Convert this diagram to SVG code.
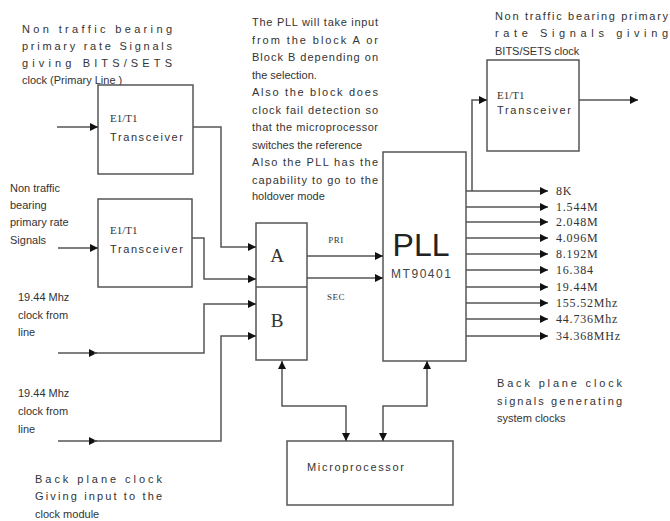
<svg xmlns="http://www.w3.org/2000/svg" width="670" height="521" viewBox="0 0 670 521">
<defs>
<style>
.bx{fill:#fff;stroke:#555;stroke-width:1.5}
.ln{fill:none;stroke:#555;stroke-width:1.5}
.t{font-family:"Liberation Sans",Arial,sans-serif;font-size:11px;fill:#333}
.s{font-family:"Liberation Serif","Times New Roman",serif;fill:#333}
.o{font-family:"Liberation Serif","Times New Roman",serif;font-size:12px;letter-spacing:0.8px;fill:#333}
</style>
<marker id="ah" viewBox="0 0 10 10" refX="10" refY="5" markerWidth="10" markerHeight="8" markerUnits="userSpaceOnUse" orient="auto-start-reverse">
<path d="M0,0 L10,5 L0,10 z" fill="#111"/>
</marker>
</defs>
<rect width="670" height="521" fill="#fff"/>

<g id="notes">
<text class="t" x="22" y="33" textLength="150" lengthAdjust="spacing">Non traffic bearing</text>
<text class="t" x="22" y="50" textLength="150" lengthAdjust="spacing">primary rate Signals</text>
<text class="t" x="22" y="67" textLength="150" lengthAdjust="spacing">giving BITS/SETS</text>
<text class="t" x="22" y="84">clock (Primary Line )</text>

<text class="t" x="252" y="26" textLength="126" lengthAdjust="spacing">The PLL will take input</text>
<text class="t" x="252" y="44" textLength="126" lengthAdjust="spacing">from the block A or</text>
<text class="t" x="252" y="61" textLength="126" lengthAdjust="spacing">Block B depending on</text>
<text class="t" x="252" y="79">the selection.</text>
<text class="t" x="252" y="96" textLength="126" lengthAdjust="spacing">Also the block does</text>
<text class="t" x="252" y="114" textLength="126" lengthAdjust="spacing">clock fail detection so</text>
<text class="t" x="252" y="131" textLength="126" lengthAdjust="spacing">that the microprocessor</text>
<text class="t" x="252" y="149">switches the reference</text>
<text class="t" x="252" y="166" textLength="126" lengthAdjust="spacing">Also the PLL has the</text>
<text class="t" x="252" y="184" textLength="126" lengthAdjust="spacing">capability to go to the</text>
<text class="t" x="252" y="200">holdover mode</text>

<text class="t" x="495" y="20" textLength="173" lengthAdjust="spacing">Non traffic bearing primary</text>
<text class="t" x="495" y="37" textLength="173" lengthAdjust="spacing">rate Signals giving</text>
<text class="t" x="495" y="55">BITS/SETS clock</text>

<text class="t" x="10" y="192">Non traffic</text>
<text class="t" x="10" y="209">bearing</text>
<text class="t" x="10" y="226">primary rate</text>
<text class="t" x="10" y="244">Signals</text>

<text class="t" x="18" y="301">19.44 Mhz</text>
<text class="t" x="18" y="319">clock from</text>
<text class="t" x="18" y="336">line</text>

<text class="t" x="18" y="397">19.44 Mhz</text>
<text class="t" x="18" y="415">clock from</text>
<text class="t" x="18" y="433">line</text>

<text class="t" x="35" y="483" textLength="127" lengthAdjust="spacing">Back plane clock</text>
<text class="t" x="35" y="500" textLength="127" lengthAdjust="spacing">Giving input to the</text>
<text class="t" x="35" y="518">clock module</text>

<text class="t" x="497" y="387" textLength="125" lengthAdjust="spacing">Back plane clock</text>
<text class="t" x="497" y="405" textLength="125" lengthAdjust="spacing">signals generating</text>
<text class="t" x="497" y="422">system clocks</text>
</g>

<g id="tx1">
<rect class="bx" x="98" y="85" width="95" height="89"/>
<text class="s" x="110" y="122" font-size="11">E1/T1</text>
<text class="t" x="110" y="141" textLength="73" lengthAdjust="spacing">Transceiver</text>
</g>
<g id="tx2">
<rect class="bx" x="98" y="199" width="94" height="88"/>
<text class="s" x="110" y="234" font-size="11">E1/T1</text>
<text class="t" x="110" y="253" textLength="73" lengthAdjust="spacing">Transceiver</text>
</g>
<g id="tx3">
<rect class="bx" x="487" y="60" width="92" height="91"/>
<text class="s" x="497" y="99" font-size="11">E1/T1</text>
<text class="t" x="497" y="114" textLength="74" lengthAdjust="spacing">Transceiver</text>
</g>
<g id="selector">
<rect class="bx" x="256" y="223" width="51" height="137"/>
<line class="ln" x1="256" y1="287" x2="307" y2="287"/>
<text class="s" x="277" y="262" font-size="19" text-anchor="middle">A</text>
<text class="s" x="277" y="327" font-size="19" text-anchor="middle">B</text>
</g>
<g id="pll">
<rect class="bx" x="383" y="152" width="83" height="209"/>
<text x="421" y="256" font-family="'Liberation Sans',Arial,sans-serif" font-size="32" fill="#222" text-anchor="middle">PLL</text>
<text x="421" y="278" font-family="'Liberation Sans',Arial,sans-serif" font-size="12" fill="#444" text-anchor="middle" textLength="60" lengthAdjust="spacing">MT90401</text>
</g>
<g id="micro">
<rect class="bx" x="287" y="441" width="166" height="64"/>
<text class="t" x="307" y="471" textLength="97" lengthAdjust="spacing">Microprocessor</text>
</g>

<g id="connectors">
<path class="ln" d="M57,127 H98" marker-end="url(#ah)"/>
<path class="ln" d="M58,248 H98" marker-end="url(#ah)"/>
<path class="ln" d="M193,127 H221 V247 H256" marker-end="url(#ah)"/>
<path class="ln" d="M192,238 H204 V279 H256" marker-end="url(#ah)"/>
<path class="ln" d="M58,353 H97" marker-end="url(#ah)"/>
<path class="ln" d="M94,353 H204 V304 H256" marker-end="url(#ah)"/>
<path class="ln" d="M58,441 H97" marker-end="url(#ah)"/>
<path class="ln" d="M94,441 H221 V336 H256" marker-end="url(#ah)"/>
<path class="ln" d="M307,256 H383" marker-end="url(#ah)"/>
<path class="ln" d="M307,278 H383" marker-end="url(#ah)"/>
<path class="ln" d="M472,191 V100 H487" marker-end="url(#ah)"/>
<path class="ln" d="M579,100 H638" marker-end="url(#ah)"/>
<path class="ln" d="M466,191 H548" marker-end="url(#ah)"/>
<path class="ln" d="M466,207 H548" marker-end="url(#ah)"/>
<path class="ln" d="M466,222 H548" marker-end="url(#ah)"/>
<path class="ln" d="M466,238 H548" marker-end="url(#ah)"/>
<path class="ln" d="M466,254 H548" marker-end="url(#ah)"/>
<path class="ln" d="M466,270 H548" marker-end="url(#ah)"/>
<path class="ln" d="M466,287 H548" marker-end="url(#ah)"/>
<path class="ln" d="M466,303 H548" marker-end="url(#ah)"/>
<path class="ln" d="M466,319 H548" marker-end="url(#ah)"/>
<path class="ln" d="M466,336 H548" marker-end="url(#ah)"/>
<path class="ln" d="M282,361 V406 H346 V441" marker-start="url(#ah)" marker-end="url(#ah)"/>
<path class="ln" d="M427,361 V406 H383 V441" marker-start="url(#ah)" marker-end="url(#ah)"/>
</g>

<g id="labels">
<text class="s" x="336" y="243" font-size="9" text-anchor="middle" letter-spacing="0.5">PRI</text>
<text class="s" x="336" y="300" font-size="9" text-anchor="middle" letter-spacing="0.5">SEC</text>
<text class="o" x="556" y="195">8K</text>
<text class="o" x="556" y="211">1.544M</text>
<text class="o" x="556" y="226">2.048M</text>
<text class="o" x="556" y="242">4.096M</text>
<text class="o" x="556" y="258">8.192M</text>
<text class="o" x="556" y="274">16.384</text>
<text class="o" x="556" y="291">19.44M</text>
<text class="o" x="556" y="307">155.52Mhz</text>
<text class="o" x="556" y="323">44.736Mhz</text>
<text class="o" x="556" y="340">34.368MHz</text>
</g>
</svg>
